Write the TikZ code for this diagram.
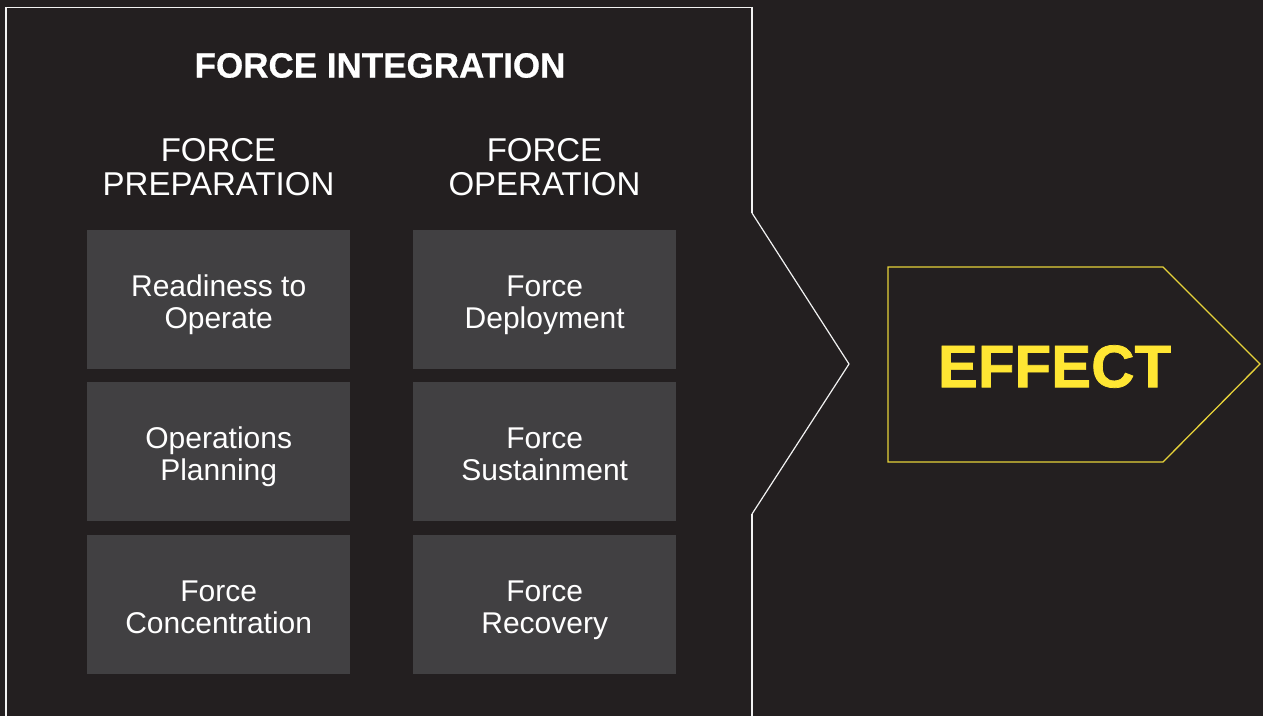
\documentclass[tikz,border=0pt]{standalone}
\usepackage{fontspec}
\setmainfont{Liberation Sans}
\newfontfamily\heavyfont[FakeBold=1.2]{Liberation Sans Bold}
\newfontfamily\titlefont[FakeBold=0.6]{Liberation Sans Bold}
\definecolor{bg}{HTML}{231F20}
\definecolor{cell}{HTML}{414042}
\definecolor{frameline}{HTML}{F2F2F2}
\definecolor{effectyellow}{HTML}{FFE633}
\definecolor{effectline}{HTML}{E6D23A}
\begin{document}
\begin{tikzpicture}[x=1pt,y=-1pt,
  cellbox/.style={fill=cell,draw=none,minimum width=263pt,minimum height=139pt,
    inner sep=0pt,anchor=north west},
  celltext/.style={text=white,align=center,inner sep=0pt,
    font=\fontsize{30}{32}\selectfont},
  colhead/.style={text=white,align=center,inner sep=0pt,
    font=\fontsize{33}{34}\selectfont},
  title/.style={text=white,inner sep=0pt,font=\fontsize{35}{38}\selectfont\titlefont},
]
% canvas
\fill[bg] (0,0) rectangle (1263,716);
\useasboundingbox (0,0) rectangle (1263,716);

% outline of the integration panel, opening into a chevron on the right
\coordinate (bl) at (5.8,716);
\coordinate (tl) at (5.8,7.5);
\coordinate (tr) at (752,7.5);
\coordinate (n1) at (752,213);
\coordinate (tip) at (849,364);
\coordinate (n2) at (752,514);
\coordinate (br) at (752,716);
\draw[frameline,line width=1.6pt,line join=miter] (bl) -- (tl) -- (tr) -- (n1);
\draw[frameline,line width=1.2pt,line join=miter] (n1) -- (tip) -- (n2);
\draw[frameline,line width=1.6pt] (n2) -- (br);

% headings
\node[title] (ttl) at (380,65.5) {FORCE INTEGRATION};
\node[colhead] (prep) at (218.5,167) {FORCE\\PREPARATION};
\node[colhead] (oper) at (544.5,167) {FORCE\\OPERATION};

% cells of the two columns
\node[cellbox] (c11) at (87,230) {};
\node[cellbox] (c12) at (87,382) {};
\node[cellbox] (c13) at (87,535) {};
\node[cellbox] (c21) at (413,230) {};
\node[cellbox] (c22) at (413,382) {};
\node[cellbox] (c23) at (413,535) {};

% cell labels (struts keep the two baselines identical in every cell)
\node[celltext] (t11) at ([yshift=-6pt]c11.center) {\strut Readiness to\\\strut Operate};
\node[celltext] (t12) at ([yshift=-6pt]c12.center) {\strut Operations\\\strut Planning};
\node[celltext] (t13) at ([yshift=-6pt]c13.center) {\strut Force\\\strut Concentration};
\node[celltext] (t21) at ([yshift=-6pt]c21.center) {\strut Force\\\strut Deployment};
\node[celltext] (t22) at ([yshift=-6pt]c22.center) {\strut Force\\\strut Sustainment};
\node[celltext] (t23) at ([yshift=-6pt]c23.center) {\strut Force\\\strut Recovery};

% effect arrow
\coordinate (e1) at (888,267);
\coordinate (e2) at (1163,267);
\coordinate (e3) at (1260,364);
\coordinate (e4) at (1163,462);
\coordinate (e5) at (888,462);
\draw[effectline,line width=1.3pt,line join=miter] (e1) -- (e2) -- (e3) -- (e4) -- (e5) -- cycle;
\node[text=effectyellow,inner sep=0pt,font=\fontsize{60}{64}\selectfont\heavyfont] (eff) at (1054.5,366.5) {EFFECT};
\end{tikzpicture}
\end{document}
